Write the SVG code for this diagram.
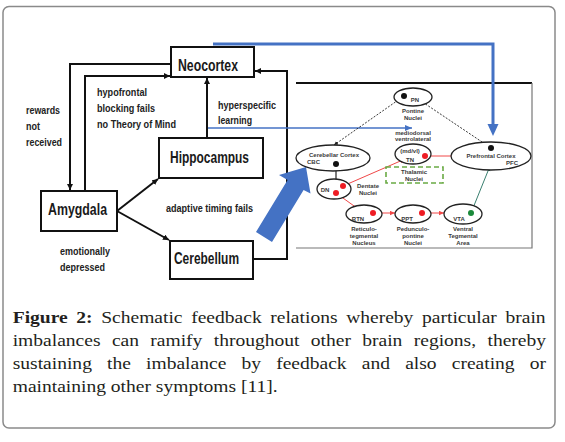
<svg xmlns="http://www.w3.org/2000/svg" width="565" height="442" viewBox="0 0 565 442">
<style>
.box{fill:#fff;stroke:#111;stroke-width:2}
.lbl{font-family:"Liberation Sans",Arial,sans-serif;font-weight:bold;font-size:16px;fill:#1a1a1a}
.ann{font-family:"Liberation Sans",Arial,sans-serif;font-weight:bold;font-size:11px;fill:#222}
.conn{fill:none;stroke:#111;stroke-width:2}
.sm{font-family:"Liberation Sans",Arial,sans-serif;font-weight:bold;font-size:6px;fill:#3a3a3a;text-anchor:middle}
.ell{fill:#fff;stroke:#222;stroke-width:1.3}
.red{fill:none;stroke:#f04848;stroke-width:1}
.cap{font-family:"Liberation Serif","Times New Roman",serif;font-size:17px;fill:#231f20}
</style>
<defs>
<marker id="ab" markerUnits="userSpaceOnUse" markerWidth="8" markerHeight="8" refX="6" refY="3" orient="auto"><path d="M0,0 L6,3 L0,6 z" fill="#111"/></marker>
<marker id="as" markerUnits="userSpaceOnUse" markerWidth="6" markerHeight="6" refX="4" refY="2" orient="auto"><path d="M0,0 L4,2 L0,4 z" fill="#222"/></marker>
<marker id="ar" markerUnits="userSpaceOnUse" markerWidth="6" markerHeight="6" refX="5" refY="2.2" orient="auto"><path d="M0,0 L5,2.2 L0,4.4 z" fill="#f04848"/></marker>
<marker id="ag" markerUnits="userSpaceOnUse" markerWidth="6" markerHeight="6" refX="5" refY="2.2" orient="auto"><path d="M0,0 L5,2.2 L0,4.4 z" fill="#3a8070"/></marker>
<marker id="abl" markerUnits="userSpaceOnUse" markerWidth="8" markerHeight="8" refX="7" refY="3" orient="auto"><path d="M0,0 L7,3 L0,6 z" fill="#4472c4"/></marker>
<marker id="abig" markerUnits="userSpaceOnUse" markerWidth="14" markerHeight="12" refX="0" refY="5.5" orient="auto"><path d="M0,0 L12,5.5 L0,11 z" fill="#4472c4"/></marker>
</defs>
<rect x="3" y="6.5" width="552" height="421.5" rx="6" fill="#fff" stroke="#8a8a8a" stroke-width="1.5"/>

<g id="inset-frame">
<path d="M296,83 H532" stroke="#111" stroke-width="2" fill="none"/>
<path d="M532,83 V248 H296" stroke="#777" stroke-width="1.2" fill="none"/>
</g>

<g id="connectors">
<path class="conn" d="M171,64 H70 V190" marker-end="url(#ab)"/>
<path class="conn" d="M85,191 V76 H170" marker-end="url(#ab)"/>
<path class="conn" d="M207,138 V78" marker-end="url(#ab)"/>
<path class="conn" d="M117,211 L158,179" marker-end="url(#ab)"/>
<path class="conn" d="M117,211 L169,240" marker-end="url(#ab)"/>
<path class="conn" d="M253,259 H287 V71 H255" marker-end="url(#ab)"/>
<path d="M213,44 H493 V124" fill="none" stroke="#4472c4" stroke-width="3" marker-end="url(#abig)"/>
<path d="M208,128 H412" fill="none" stroke="#4472c4" stroke-width="1.3" marker-end="url(#abl)"/>
<polygon points="256,232 287.6,180.1 279,175 306,167 310.5,193.5 303.6,190.1 272,242" fill="#4472c4"/>
<path d="M404,96 L334,145" fill="none" stroke="#222" stroke-width="0.9" stroke-dasharray="2,1.5" marker-end="url(#as)"/>
<path d="M491,148 L418,99" fill="none" stroke="#222" stroke-width="0.9" stroke-dasharray="2,1.5" marker-end="url(#as)"/>
<path d="M336,164 V185" fill="none" stroke="#222" stroke-width="1.2" marker-end="url(#as)"/>
<path class="red" d="M343,186 L405,159" marker-end="url(#ar)"/>
<path class="red" d="M425,156 H461" marker-end="url(#ar)"/>
<path class="red" d="M336,193 L361,211" marker-end="url(#ar)"/>
<path class="red" d="M373,213 H395" marker-end="url(#ar)"/>
<path class="red" d="M422,213 H444" marker-end="url(#ar)"/>
<path d="M471,213 L490,166" fill="none" stroke="#3a8070" stroke-width="1" marker-end="url(#ag)"/>
</g>

<g id="neocortex"><rect class="box" x="171" y="47" width="83" height="30"/><text class="lbl" x="178" y="71" textLength="60" lengthAdjust="spacingAndGlyphs">Neocortex</text></g>
<g id="hippocampus"><rect class="box" x="159" y="138" width="104" height="40"/><text class="lbl" x="170" y="163" textLength="79" lengthAdjust="spacingAndGlyphs">Hippocampus</text></g>
<g id="amygdala"><rect class="box" x="41" y="191" width="76" height="40"/><text class="lbl" x="48" y="215" textLength="59" lengthAdjust="spacingAndGlyphs">Amygdala</text></g>
<g id="cerebellum"><rect class="box" x="170" y="241" width="83" height="38"/><text class="lbl" x="174" y="264" textLength="65" lengthAdjust="spacingAndGlyphs">Cerebellum</text></g>

<g id="annotations">
<text class="ann" x="97" y="96" textLength="50" lengthAdjust="spacingAndGlyphs">hypofrontal</text>
<text class="ann" x="97" y="112" textLength="58" lengthAdjust="spacingAndGlyphs">blocking fails</text>
<text class="ann" x="97" y="128" textLength="79" lengthAdjust="spacingAndGlyphs">no Theory of Mind</text>
<text class="ann" x="26" y="114" textLength="34" lengthAdjust="spacingAndGlyphs">rewards</text>
<text class="ann" x="26" y="130" textLength="14" lengthAdjust="spacingAndGlyphs">not</text>
<text class="ann" x="26" y="146" textLength="36" lengthAdjust="spacingAndGlyphs">received</text>
<text class="ann" x="218" y="109" textLength="58" lengthAdjust="spacingAndGlyphs">hyperspecific</text>
<text class="ann" x="218" y="124" textLength="34" lengthAdjust="spacingAndGlyphs">learning</text>
<text class="ann" x="166" y="212" textLength="87" lengthAdjust="spacingAndGlyphs">adaptive timing fails</text>
<text class="ann" x="60" y="255" textLength="50" lengthAdjust="spacingAndGlyphs">emotionally</text>
<text class="ann" x="60" y="271" textLength="45" lengthAdjust="spacingAndGlyphs">depressed</text>
</g>

<g id="pn"><ellipse class="ell" cx="413" cy="97" rx="19" ry="9"/><circle cx="404" cy="96" r="3" fill="#111"/><text class="sm" x="415" y="102" font-size="5.5">PN</text><text class="sm" x="413" y="113">Pontine</text><text class="sm" x="413" y="120">Nuclei</text></g>
<g id="tn"><text class="sm" x="413" y="135">mediodorsal</text><text class="sm" x="413" y="141">ventrolateral</text><ellipse class="ell" cx="413" cy="154" rx="18" ry="10"/><text class="sm" x="410" y="153">(md/vl)</text><text class="sm" x="410" y="162">TN</text><circle cx="425" cy="156" r="3" fill="#ee1c24"/></g>
<g id="thalamic"><rect x="386" y="167" width="57" height="16" fill="none" stroke="#6aaa44" stroke-width="1.6" stroke-dasharray="5,3"/><text class="sm" x="414" y="174">Thalamic</text><text class="sm" x="414" y="181">Nuclei</text></g>
<g id="cbc"><ellipse class="ell" cx="333" cy="158" rx="37" ry="13"/><text class="sm" x="334" y="157">Cerebellar Cortex</text><text class="sm" x="307" y="164" text-anchor="start" style="text-anchor:start">CBC</text><circle cx="336" cy="164" r="3" fill="#111"/></g>
<g id="dn"><ellipse class="ell" cx="334" cy="189" rx="17" ry="10"/><text class="sm" x="325" y="192">DN</text><circle cx="343" cy="186" r="3" fill="#ee1c24"/><circle cx="336" cy="193" r="3" fill="#ee1c24"/><text class="sm" x="368" y="188">Dentate</text><text class="sm" x="368" y="195">Nuclei</text></g>
<g id="pfc"><ellipse class="ell" cx="491" cy="156" rx="40" ry="14"/><text class="sm" x="491" y="158">Prefrontal Cortex</text><text class="sm" x="518" y="165" style="text-anchor:end">PFC</text><circle cx="491" cy="148" r="3" fill="#111"/></g>
<g id="rtn"><ellipse class="ell" cx="364" cy="214" rx="18" ry="9"/><text class="sm" x="358" y="221">RTN</text><circle cx="373" cy="213" r="3" fill="#ee1c24"/><text class="sm" x="364" y="231">Reticulo-</text><text class="sm" x="364" y="238">tegmental</text><text class="sm" x="364" y="245">Nucleus</text></g>
<g id="ppt"><ellipse class="ell" cx="413" cy="214" rx="18" ry="9"/><text class="sm" x="407" y="221">PPT</text><circle cx="422" cy="213" r="3" fill="#ee1c24"/><text class="sm" x="413" y="231">Pedunculo-</text><text class="sm" x="413" y="238">pontine</text><text class="sm" x="413" y="245">Nuclei</text></g>
<g id="vta"><ellipse class="ell" cx="463" cy="214" rx="19" ry="10"/><text class="sm" x="459" y="221">VTA</text><circle cx="471" cy="213" r="3" fill="#1a8a3a"/><text class="sm" x="463" y="231">Ventral</text><text class="sm" x="463" y="238">Tegmental</text><text class="sm" x="463" y="245">Area</text></g>

<g id="caption" transform="translate(12.7,0) scale(1.15,1)">
<text class="cap" x="0" y="323" style="word-spacing:3.27px"><tspan font-weight="bold">Figure 2:</tspan> Schematic feedback relations whereby particular brain</text>
<text class="cap" x="0" y="346" style="word-spacing:5.63px">imbalances can ramify throughout other brain regions, thereby</text>
<text class="cap" x="0" y="369" style="word-spacing:8.94px">sustaining the imbalance by feedback and also creating or</text>
<text class="cap" x="0" y="392">maintaining other symptoms [11].</text>
</g>
</svg>
